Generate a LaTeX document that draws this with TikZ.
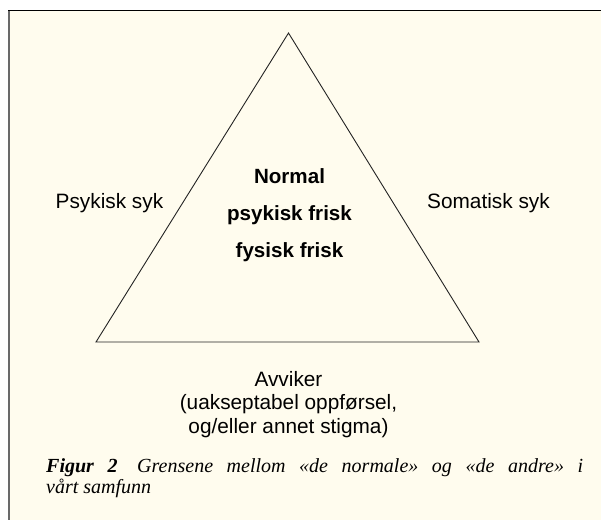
\documentclass[tikz,border=0pt]{standalone}
\usepackage{fontspec}
\setmainfont{Liberation Serif}
\setsansfont{Liberation Sans}
\definecolor{cream}{RGB}{255,252,238}
\definecolor{framegray}{RGB}{105,105,105}
\definecolor{lineink}{RGB}{35,35,35}
\begin{document}
\begin{tikzpicture}[x=1pt,y=-1pt,
  lbl/.style={font=\sffamily\fontsize{20.8}{24}\selectfont, inner sep=0pt, anchor=base},
  lblb/.style={lbl, font=\sffamily\bfseries\fontsize{20.6}{24}\selectfont},
  edge/.style={draw=lineink, line width=0.9pt, line join=miter}]
\useasboundingbox (0,0) rectangle (601,520);
\fill[white] (0,0) rectangle (601,520);
\fill[cream] (9,10) rectangle (601,520);
\draw[framegray, line width=2pt] (9,10) -- (9,520);
\draw[black, line width=1.3pt] (8,10.5) -- (601,10.5);
% triangle
\coordinate (top) at (288.5,33);
\coordinate (bl) at (96,342);
\coordinate (br) at (479,342);
\draw[edge] (top) -- (bl) -- (br) -- cycle;
% inner labels
\node[lblb] (n1) at (289.5,183) {Normal};
\node[lblb] (n2) at (289.5,220) {psykisk frisk};
\node[lblb] (n3) at (289.5,257) {fysisk frisk};
% side labels
\node[lbl, anchor=base west] (ps) at (55.5,208) {Psykisk syk};
\node[lbl, anchor=base west] (so) at (427,208) {Somatisk syk};
% bottom label
\node[lbl] (a1) at (288.5,386) {Avviker};
\node[lbl] (a2) at (288.5,409.5) {(uakseptabel oppførsel,};
\node[lbl] (a3) at (288.5,433) {og/eller annet stigma)};
% caption
\node[inner sep=0pt, anchor=base west] (cap) at (46,472)
  {\parbox[t]{537pt}{\fontsize{20}{21}\selectfont\itshape\parindent=0pt
   {\bfseries Figur 2}\hspace{0.3em} Grensene mellom «de normale» og «de andre» i\linebreak
   vårt samfunn}};
\end{tikzpicture}
\end{document}
